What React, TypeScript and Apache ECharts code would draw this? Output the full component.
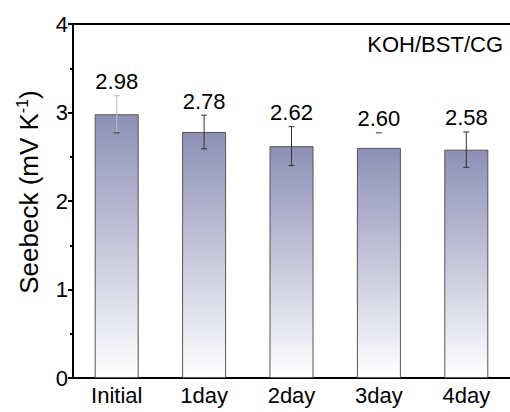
import React, { useEffect, useRef } from "react";
import * as echarts from "echarts";

const categories = ["Initial", "1day", "2day", "3day", "4day"];
const seebeck = [2.98, 2.78, 2.62, 2.6, 2.58];
const errors = [0.21, 0.19, 0.22, 0.17, 0.2];
const errLineShown = [true, true, true, false, true];
const errColors = ["#bdbdbd", "#333333", "#333333", "#333333", "#333333"];
const valueLabels = ["2.98", "2.78", "2.62", "2.60", "2.58"];
const yTicks = [0, 1, 2, 3, 4];

export default function App() {
  const ref = useRef<HTMLDivElement>(null);
  useEffect(() => {
    if (!ref.current) return;
    const chart = echarts.init(ref.current, null, { renderer: "svg" });
    const font = "'Liberation Sans', Arial, sans-serif";
    const errData = seebeck.map((v, i) => [i, v, errors[i]]);
    chart.setOption({
      animation: false,
      backgroundColor: "#ffffff",
      grid: { left: 73, right: 0, top: 24, bottom: 34, containLabel: false },
      xAxis: [
        {
          type: "category",
          data: categories,
          axisLine: { show: true, lineStyle: { color: "#000", width: 2 } },
          axisTick: { show: false },
          axisLabel: { color: "#000", fontSize: 22, fontFamily: font, margin: 6 },
          splitLine: { show: false },
        },
        {
          type: "category",
          position: "top",
          data: categories,
          axisLine: { show: true, lineStyle: { color: "#000", width: 2 } },
          axisTick: { show: false },
          axisLabel: { show: false },
        },
      ],
      yAxis: {
        type: "value",
        min: yTicks[0],
        max: yTicks[yTicks.length - 1],
        interval: 1,
        axisLine: { show: true, lineStyle: { color: "#000", width: 2 } },
        axisTick: { show: true, inside: false, length: 5, lineStyle: { color: "#000", width: 2 } },
        minorTick: { show: true, splitNumber: 2, length: 3, lineStyle: { color: "#000", width: 2 } },
        axisLabel: { color: "#000", fontSize: 22, fontFamily: font, margin: 5 },
        splitLine: { show: false },
      },
      series: [
        {
          type: "bar",
          data: seebeck,
          barWidth: 44,
          itemStyle: {
            color: new echarts.graphic.LinearGradient(0, 0, 0, 1, [
              { offset: 0, color: "#8f8fb6" },
              { offset: 0.5, color: "#c6c6dc" },
              { offset: 1, color: "#ffffff" },
            ]),
            borderColor: "#555",
            borderWidth: 1,
          },
        },
        {
          type: "custom",
          data: errData,
          z: 10,
          renderItem: (params: any, api: any) => {
            const i = api.value(0);
            const v = api.value(1);
            const e = api.value(2);
            const top = api.coord([i, v + e]);
            const bot = api.coord([i, v - e]);
            const x = top[0];
            const c = errColors[i];
            const cw = 3;
            const children: any[] = [];
            if (errLineShown[i]) {
              children.push({
                type: "line",
                shape: { x1: x, y1: top[1], x2: x, y2: bot[1] },
                style: { stroke: c, lineWidth: 1 },
              });
              children.push({
                type: "line",
                shape: { x1: x - cw, y1: bot[1], x2: x + cw, y2: bot[1] },
                style: { stroke: "#333", lineWidth: 1 },
              });
            }
            children.push({
              type: "line",
              shape: { x1: x - cw, y1: top[1], x2: x + cw, y2: top[1] },
              style: { stroke: c, lineWidth: 1 },
            });
            children.push({
              type: "text",
              x: x,
              y: top[1] - 3,
              style: {
                text: valueLabels[i],
                fill: "#000",
                fontSize: 22,
                fontFamily: font,
                textAlign: "center",
                textVerticalAlign: "bottom",
              },
            });
            return { type: "group", children };
          },
        },
      ],
      graphic: [
        {
          type: "text",
          x: 503,
          y: 44,
          style: {
            text: "KOH/BST/CG",
            fill: "#000",
            fontSize: 22,
            fontFamily: font,
            textAlign: "right",
            textVerticalAlign: "middle",
          },
        },
        {
          type: "text",
          x: 29,
          y: 192,
          rotation: Math.PI / 2,
          style: {
            text: "{a|Seebeck (mV K}{s|-1}{a|)}",
            fill: "#000",
            textAlign: "center",
            textVerticalAlign: "middle",
            rich: {
              a: { fontSize: 26, fontFamily: font, fill: "#000", lineHeight: 30 },
              s: { fontSize: 16, fontFamily: font, fill: "#000", verticalAlign: "top", lineHeight: 16 },
            },
          },
        },
      ],
    });
    return () => chart.dispose();
  }, []);
  return <div ref={ref} style={{ width: 510, height: 412, position: "absolute", left: 0, top: 0 }} />;
}
